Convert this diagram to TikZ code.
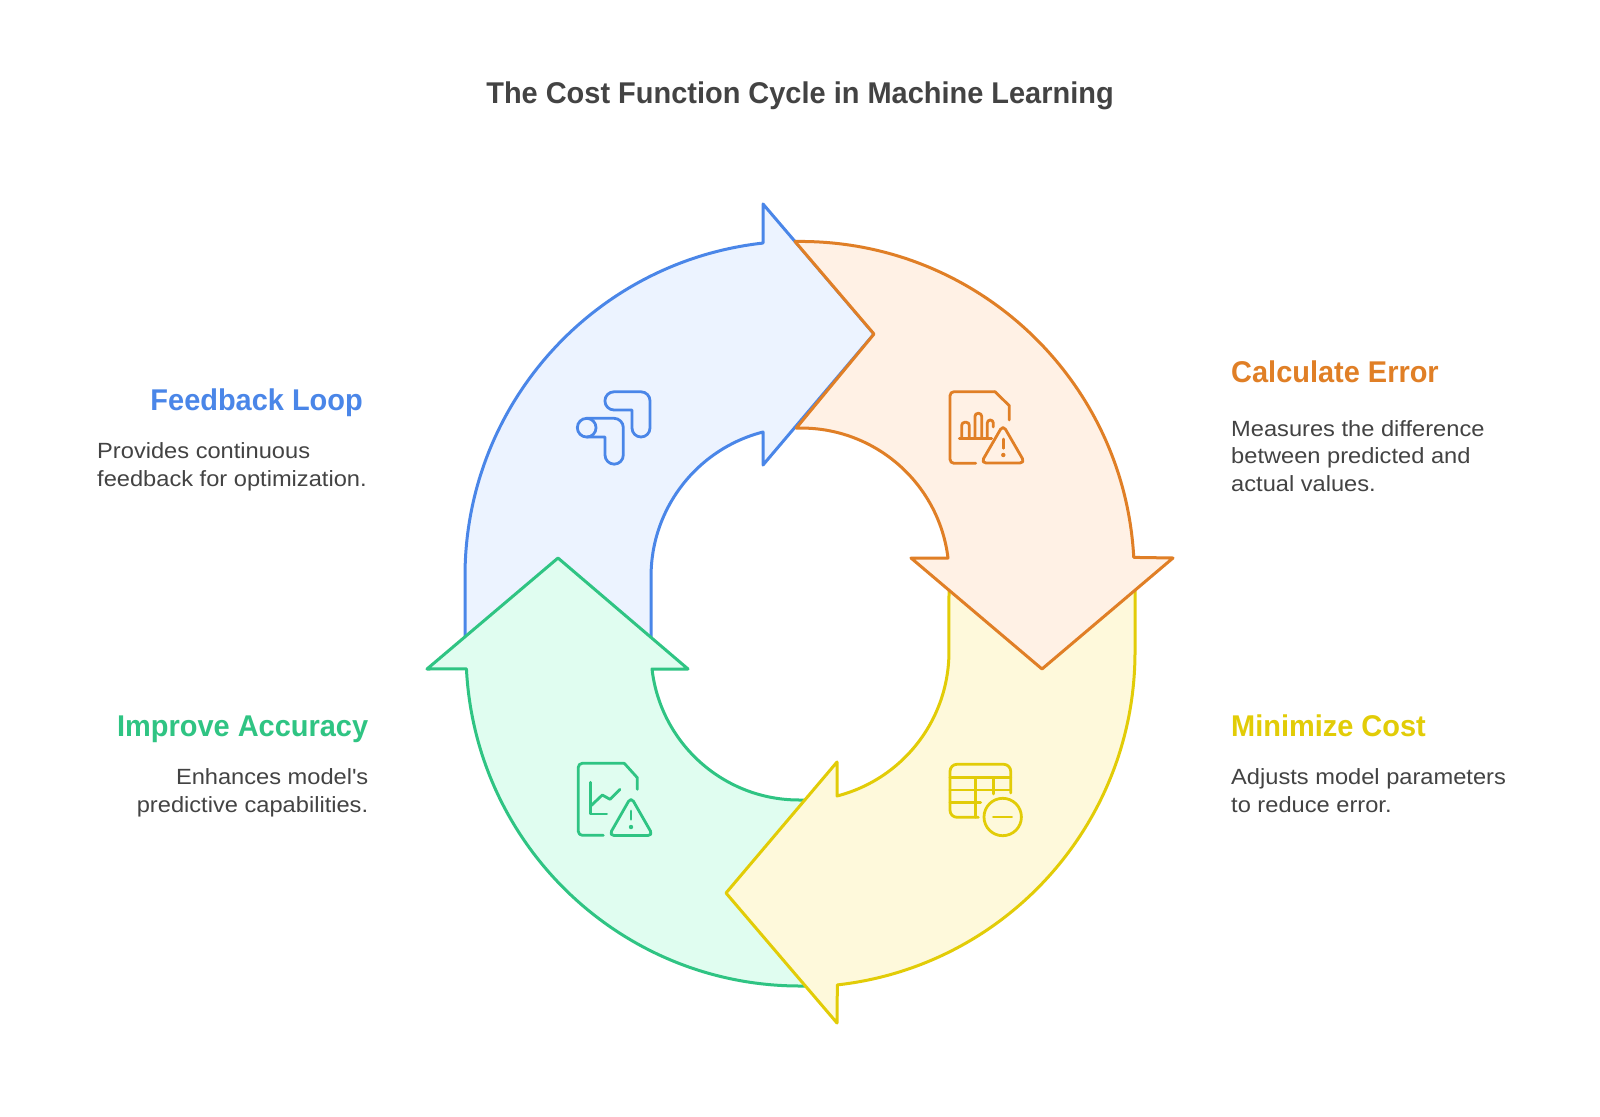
\documentclass[tikz,border=0pt]{standalone}
\usepackage{fontspec}
\setmainfont{Liberation Sans}
\newfontfamily\headf[FakeStretch=0.965]{Liberation Sans}
\newfontfamily\bodyf[FakeStretch=1.075]{Liberation Sans}
\definecolor{bluS}{HTML}{4A86E8}\definecolor{bluF}{HTML}{ECF3FF}
\definecolor{oraS}{HTML}{E07F26}\definecolor{oraF}{HTML}{FFF1E5}
\definecolor{yelS}{HTML}{E2CC07}\definecolor{yelF}{HTML}{FEF9DB}
\definecolor{grnS}{HTML}{2FC483}\definecolor{grnF}{HTML}{E0FDF0}
\definecolor{txtC}{HTML}{434343}
\tikzset{
  ringshape/.style={line width=3pt,line join=round},
  iconline/.style={line width=2.8pt,line cap=round,line join=round,fill=none},
  titletext/.style={font=\headf\bfseries\fontsize{30}{36}\selectfont,text=txtC,inner sep=0pt},
  headtext/.style={font=\headf\bfseries\fontsize{30}{36}\selectfont,inner sep=0pt},
  bodytext/.style={font=\bodyf\fontsize{22}{27.5}\selectfont,text=txtC,inner sep=0pt},
}
\begin{document}
\begin{tikzpicture}[x=1pt,y=-1pt]
\useasboundingbox[fill=white] (0,0) rectangle (1600,1116);
% ring
\draw[ringshape,draw=bluS,fill=bluF] (465,640) -- (465,576) arc[start angle=180,end angle=263.66,radius=335]
  -- (763,204) -- (874,334) -- (763,465) -- (763,432) arc[start angle=255.6,end angle=180,radius=149] -- (651,640);
\draw[ringshape,draw=grnS,fill=grnF] (815,986) -- (800,986) arc[start angle=90,end angle=177.1,radius=334]
  -- (427,669) -- (558,558) -- (688,669) -- (652,669) arc[start angle=173.4,end angle=90,radius=148] -- (815,800);
\draw[ringshape,draw=yelS,fill=yelF] (1135,575) -- (1135,652) arc[start angle=0,end angle=83.6,radius=335]
  -- (837,1023) -- (726,893) -- (837,762) -- (837,796) arc[start angle=75.6,end angle=0,radius=149] -- (949,575);
\draw[ringshape,draw=oraS,fill=oraF] (795,241.5) arc[start angle=269.1,end angle=356.9,radius=334]
  -- (1173,558) -- (1042,669) -- (911,558) -- (948,558) arc[start angle=353,end angle=268.1,radius=148] -- (874,334) -- cycle;
% icon feedback
\begin{scope}[iconline,draw=bluS]
\draw (614,391.8) -- (641,391.8) arc[start angle=270,end angle=360,radius=9] -- (650,428) arc[start angle=0,end angle=180,radius=9] -- (632,410) -- (614,410) arc[start angle=90,end angle=270,radius=9.1] -- cycle;
\draw (586.7,418.3) -- (614,418.3) arc[start angle=270,end angle=360,radius=9.3] -- (623.3,455) arc[start angle=0,end angle=180,radius=9.15] -- (605,437) -- (586.7,437);
\draw (586.7,427.7) circle[radius=9.35];
\end{scope}
% icon error
\begin{scope}[iconline,draw=oraS]
\draw[rounded corners=4pt] (975.7,463.3) -- (950,463.3) -- (950,391.7) -- (995,391.7);
\draw (995,391.7) -- (1009.3,405.7) -- (1009.3,420);
\draw (959.3,438.3) -- (991.7,438.3);
\draw[rounded corners=3pt] (961.7,438.3) -- (961.7,422.3) -- (969.3,422.3) -- (969.3,438.3);
\draw[rounded corners=3pt] (975,438.3) -- (975,413.3) -- (981.7,413.3) -- (981.7,438.3);
\draw[rounded corners=3pt] (987.3,438.3) -- (987.3,420) -- (993.3,420) -- (993.3,427);
\draw[rounded corners=5pt] (1003,425) -- (1025,463) -- (981,463) -- cycle;
\draw (1003.3,439) -- (1003.3,448.3);
\fill[oraS] (1003.3,455) circle[radius=2.2];
\end{scope}
% icon cost
\begin{scope}[iconline,draw=yelS]
\draw[rounded corners=7pt] (978.3,817.3) -- (950,817.3) -- (950,764.3) -- (1010.7,764.3) -- (1010.7,793);
\draw (950,777.7) -- (1010.7,777.7);
\draw (950,790) -- (1010.7,790);
\draw (950,802.7) -- (980.7,802.7);
\draw (975.7,777.7) -- (975.7,817.3);
\draw (993.3,777.7) -- (993.3,794);
\draw (1002.7,817) circle[radius=18.7];
\draw (993.3,817) -- (1011.7,817);
\end{scope}
% icon accuracy
\begin{scope}[iconline,draw=grnS]
\draw[rounded corners=4pt] (603.3,835.3) -- (578.3,835.3) -- (578.3,763.3) -- (624.3,763.3);
\draw (624.3,763.3) -- (637.3,777.7) -- (637.3,789.3);
\draw (590.7,782.3) -- (590.7,814) -- (606.7,814);
\draw (590.7,806) -- (602.3,795) -- (610,799.3) -- (620,789.3);
\draw[rounded corners=5pt] (631,797) -- (653,835.5) -- (609,835.5) -- cycle;
\draw (631,811) -- (631,819.3);
\fill[grnS] (631,827) circle[radius=2.2];
\end{scope}
% text
\node[titletext,anchor=base] (title) at (800,103.3) {The Cost Function Cycle in Machine Learning};
\node[headtext,text=bluS,anchor=base east] (feedback) at (363,410) {Feedback Loop};
\node[bodytext,anchor=base west,align=left] (feedbackd) at (97,486.4) {Provides continuous\\feedback for optimization.};
\node[headtext,text=oraS,anchor=base west] (calc) at (1231,382.7) {Calculate Error};
\node[bodytext,anchor=base west,align=left] (calcd) at (1231,491.2) {Measures the difference\\between predicted and\\actual values.};
\node[headtext,text=yelS,anchor=base west] (mini) at (1231,736.2) {Minimize Cost};
\node[bodytext,anchor=base west,align=left] (minid) at (1231,812.3) {Adjusts model parameters\\to reduce error.};
\node[headtext,text=grnS,anchor=base east] (impr) at (368.4,736.2) {Improve Accuracy};
\node[bodytext,anchor=base east,align=right] (imprd) at (368.4,812.3) {Enhances model\textquotesingle s\\predictive capabilities.};
\end{tikzpicture}
\end{document}
